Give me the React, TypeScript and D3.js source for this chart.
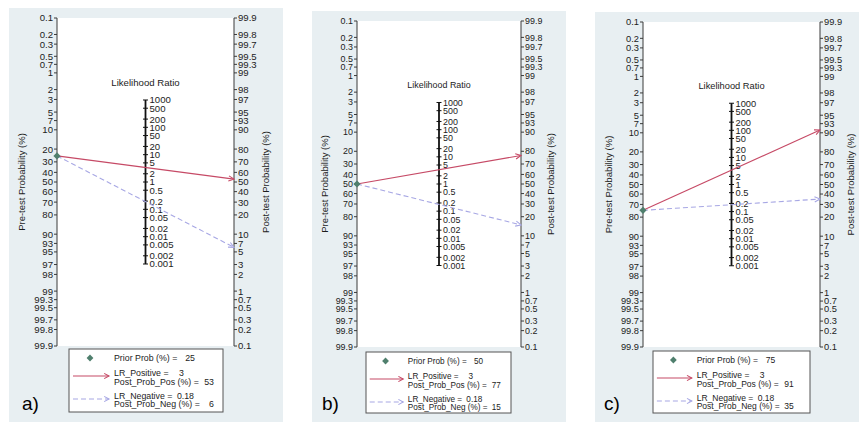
import React from 'react';
import * as d3 from 'd3';

// ---- data ----
const panelLabels = ['a)', 'b)', 'c)'];
const priorProb = [25, 50, 75];
const lrPositive = [3, 3, 3];
const lrNegative = [0.18, 0.18, 0.18];
const postProbPos = [53, 77, 91];
const postProbNeg = [6, 15, 35];
const preTicks = [0.1, 0.2, 0.3, 0.5, 0.7, 1, 2, 3, 5, 7, 10, 20, 30, 40, 50, 60, 70, 80, 90, 93, 95, 97, 98, 99, 99.3, 99.5, 99.7, 99.8, 99.9];
const postTicks = [99.9, 99.8, 99.7, 99.5, 99.3, 99, 98, 97, 95, 93, 90, 80, 70, 60, 50, 40, 30, 20, 10, 7, 5, 3, 2, 1, 0.7, 0.5, 0.3, 0.2, 0.1];
const lrTicks = [1000, 500, 200, 100, 50, 20, 10, 5, 2, 1, 0.5, 0.2, 0.1, 0.05, 0.02, 0.01, 0.005, 0.002, 0.001];

// ---- layout ----
const W = 859;
const H = 422;
const FONT = "'Liberation Sans', Arial, Helvetica, sans-serif";
const BG = '#e8eff2';
const POS = '#c64a66';
const NEG = '#a7a7e4';
const DIAMOND = '#4f7f6d';
const AXIS = '#3a3a3a';
const TEXT = '#1c1c1c';

const layout = [
  { bg: [9, 8, 283, 422], left: 57, right: 234, top: 18, bottom: 346, f: 1.0, legend: [69, 349, 223, 412], label: [22, 410] },
  { bg: [312, 11, 566, 422], left: 357, right: 521, top: 21, bottom: 347, f: 0.93, legend: [366, 352, 511, 413], label: [322, 410] },
  { bg: [595, 12, 870, 422], left: 643, right: 820, top: 22, bottom: 347, f: 0.97, legend: [653, 351, 810, 413], label: [604, 410] },
];

const logit = (p: number) => Math.log(p / (100 - p));

function arrowHead(x1: number, y1: number, x2: number, y2: number, len = 6, half = 0.45) {
  const a = Math.atan2(y2 - y1, x2 - x1);
  const p1 = [x2 - len * Math.cos(a - half), y2 - len * Math.sin(a - half)];
  const p2 = [x2 - len * Math.cos(a + half), y2 - len * Math.sin(a + half)];
  return `M${p1[0]},${p1[1]}L${x2},${y2}L${p2[0]},${p2[1]}`;
}

function Panel({ i }: { i: number }) {
  const L = layout[i];
  const f = L.f;
  const tickFs = 9.6 * f;
  const legFs = 8.8 * f;
  const pMax = 99.9;
  const yPre = d3.scaleLinear().domain([logit(100 - pMax), logit(pMax)]).range([L.top, L.bottom]);
  const yPost = d3.scaleLinear().domain([logit(pMax), logit(100 - pMax)]).range([L.top, L.bottom]);
  const mid = (L.top + L.bottom) / 2;
  const k = (L.bottom - L.top) / (2 * logit(pMax));
  const yLR = d3.scaleLog().domain([0.001, 1000]).range([mid + (k * Math.log(1000)) / 2, mid - (k * Math.log(1000)) / 2]);
  const xLR = (L.left + L.right) / 2;

  const yP0 = yPre(logit(priorProb[i]));
  const yPos = yPost(logit(postProbPos[i]));
  const yNeg = yPost(logit(postProbNeg[i]));

  const [lx0, ly0, lx1, ly1] = L.legend;
  const tx = lx0 + 45 * f;
  const arX0 = lx0 + 4 * f;
  const arX1 = lx0 + 40 * f;
  const line = d3.line();

  const dia = (cx: number, cy: number, r: number) => `M${cx},${cy - r}L${cx + r},${cy}L${cx},${cy + r}L${cx - r},${cy}Z`;

  return (
    <g fontFamily={FONT} fill={TEXT}>
      <rect x={L.bg[0]} y={L.bg[1]} width={L.bg[2] - L.bg[0]} height={L.bg[3] - L.bg[1]} fill={BG} />
      <rect x={L.left} y={L.top} width={L.right - L.left} height={L.bottom - L.top} fill="#ffffff" />

      {/* left axis: pre-test */}
      <line x1={L.left} x2={L.left} y1={L.top} y2={L.bottom} stroke={AXIS} strokeWidth={1} />
      {preTicks.map((t) => {
        const y = yPre(logit(t));
        return (
          <g key={'pre' + t}>
            <line x1={L.left - 3} x2={L.left} y1={y} y2={y} stroke={AXIS} strokeWidth={1} />
            <text x={L.left - 4} y={y} dy="0.36em" textAnchor="end" fontSize={tickFs}>{String(t)}</text>
          </g>
        );
      })}

      {/* right axis: post-test */}
      <line x1={L.right} x2={L.right} y1={L.top} y2={L.bottom} stroke={AXIS} strokeWidth={1} />
      {postTicks.map((t) => {
        const y = yPost(logit(t));
        return (
          <g key={'post' + t}>
            <line x1={L.right} x2={L.right + 3} y1={y} y2={y} stroke={AXIS} strokeWidth={1} />
            <text x={L.right + 4} y={y} dy="0.36em" textAnchor="start" fontSize={tickFs}>{String(t)}</text>
          </g>
        );
      })}

      {/* LR axis */}
      <text x={xLR} y={yLR(1000) - 14} textAnchor="middle" fontSize={tickFs}>Likelihood Ratio</text>
      <line x1={xLR} x2={xLR} y1={yLR(1000)} y2={yLR(0.001)} stroke="#111" strokeWidth={1.8} />
      {lrTicks.map((t) => {
        const y = yLR(t);
        return (
          <g key={'lr' + t}>
            <line x1={xLR - 2.5} x2={xLR + 2.5} y1={y} y2={y} stroke="#111" strokeWidth={1} />
            <text x={xLR + 4} y={y} dy="0.36em" textAnchor="start" fontSize={tickFs}>{String(t)}</text>
          </g>
        );
      })}

      {/* axis titles */}
      <text transform={`translate(${L.left - 35 * f + 3.4},${mid}) rotate(-90)`} textAnchor="middle" fontSize={9.5}>Pre-test Probability (%)</text>
      <text transform={`translate(${L.right + 32 * f + 3.4},${mid}) rotate(-90)`} textAnchor="middle" fontSize={9.5}>Post-test Probability (%)</text>

      {/* lines */}
      <path d={line([[L.left, yP0], [L.right, yNeg]]) || ''} stroke={NEG} strokeWidth={1.1} strokeDasharray="5,3" fill="none" />
      <path d={arrowHead(L.left, yP0, L.right, yNeg)} stroke={NEG} strokeWidth={1.1} fill="none" />
      <path d={line([[L.left, yP0], [L.right, yPos]]) || ''} stroke={POS} strokeWidth={1.1} fill="none" />
      <path d={arrowHead(L.left, yP0, L.right, yPos)} stroke={POS} strokeWidth={1.1} fill="none" />
      <path d={dia(L.left, yP0, 3.6)} fill={DIAMOND} />

      {/* legend */}
      <rect x={lx0} y={ly0} width={lx1 - lx0} height={ly1 - ly0} fill="#ffffff" stroke="#555" strokeWidth={1} />
      <path d={dia(lx0 + 21 * f, ly0 + 9, 3.4)} fill={DIAMOND} />
      <text x={tx} y={ly0 + 12} fontSize={legFs}>Prior Prob (%) =</text>
      <text x={tx + 81 * f} y={ly0 + 12} fontSize={legFs} textAnchor="end">{String(priorProb[i])}</text>

      <line x1={arX0} x2={arX1} y1={ly0 + 27} y2={ly0 + 27} stroke={POS} strokeWidth={1.1} />
      <path d={arrowHead(arX0, ly0 + 27, arX1, ly0 + 27, 5.5, 0.5)} stroke={POS} strokeWidth={1.1} fill="none" />
      <text x={tx} y={ly0 + 26.5} fontSize={legFs}>LR_Positive =</text>
      <text x={tx + 70 * f} y={ly0 + 26.5} fontSize={legFs} textAnchor="end">{String(lrPositive[i])}</text>
      <text x={tx} y={ly0 + 35.5} fontSize={legFs}>Post_Prob_Pos (%) =</text>
      <text x={tx + 100 * f} y={ly0 + 35.5} fontSize={legFs} textAnchor="end">{String(postProbPos[i])}</text>

      <line x1={arX0} x2={arX1} y1={ly0 + 50} y2={ly0 + 50} stroke={NEG} strokeWidth={1.1} strokeDasharray="5,3" />
      <path d={arrowHead(arX0, ly0 + 50, arX1, ly0 + 50, 5.5, 0.5)} stroke={NEG} strokeWidth={1.1} fill="none" />
      <text x={tx} y={ly0 + 49.5} fontSize={legFs}>LR_Negative =</text>
      <text x={tx + 80 * f} y={ly0 + 49.5} fontSize={legFs} textAnchor="end">{String(lrNegative[i])}</text>
      <text x={tx} y={ly0 + 57.5} fontSize={legFs}>Post_Prob_Neg (%) =</text>
      <text x={tx + 100 * f} y={ly0 + 57.5} fontSize={legFs} textAnchor="end">{String(postProbNeg[i])}</text>

      {/* panel label */}
      <text x={L.label[0]} y={L.label[1]} fontSize={19} fill="#000">{panelLabels[i]}</text>
    </g>
  );
}

export default function App() {
  return (
    <svg width={W} height={H} viewBox={`0 0 ${W} ${H}`} style={{ position: 'absolute', left: 0, top: 0, background: '#ffffff' }}>
      <rect x={0} y={0} width={W} height={H} fill="#ffffff" />
      {panelLabels.map((_, i) => (
        <Panel key={i} i={i} />
      ))}
    </svg>
  );
}
